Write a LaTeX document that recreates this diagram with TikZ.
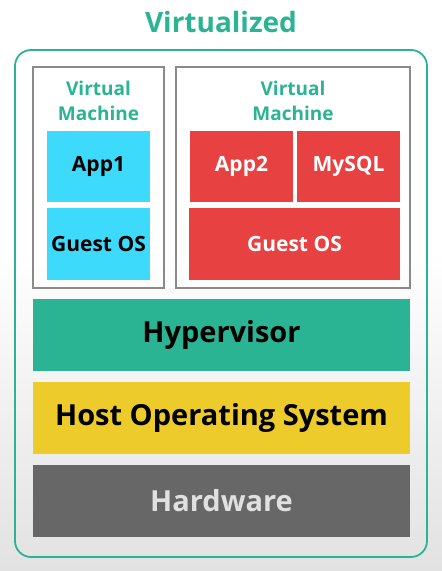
\documentclass[tikz,border=0pt]{standalone}
\usepackage{fontspec}
\setmainfont{Open Sans}
\definecolor{vteal}{HTML}{2BB494}
\definecolor{vcyan}{HTML}{3DDAFC}
\definecolor{vred}{HTML}{E84142}
\definecolor{vyellow}{HTML}{ECCB2A}
\definecolor{vhard}{HTML}{676767}
\definecolor{vframe}{HTML}{8A8A8A}
\definecolor{vback}{HTML}{E2E2E2}
\begin{document}
\begin{tikzpicture}[x=1pt,y=-1pt,
	block/.style={inner sep=0pt, outer sep=0pt, font=\bfseries\fontsize{21}{25}\selectfont},
	layer/.style={block, minimum width=377pt, minimum height=72pt, font=\bfseries\fontsize{29}{34}\selectfont},
	vmbox/.style={draw=vframe, line width=1.5pt, inner sep=0pt, minimum height=221pt},
	vmlabel/.style={text=vteal, align=center, font=\bfseries\fontsize{19}{25}\selectfont}]
		% background
		\fill[white] (0,0) rectangle (442,250);
		\shade[top color=white, bottom color=vback] (0,250) rectangle (442,571);
		\useasboundingbox (0,0) rectangle (442,571);
		\node[text=vteal, font=\bfseries\fontsize{28}{33}\selectfont] (title) at (221,22) {Virtualized};
		\draw[vteal, line width=1.8pt, rounded corners=16pt] (15,50) rectangle (427,557);
		% virtual machines
		\node[vmbox, minimum width=131pt] (vm1) at (98.5,177.5) {};
		\node[vmbox, minimum width=234pt] (vm2) at (293,177.5) {};
		\node[vmlabel] (vm1lbl) at (98.5,100.5) {Virtual\\Machine};
		\node[vmlabel] (vm2lbl) at (293,100.5) {Virtual\\Machine};
		\node[block, fill=vcyan, minimum width=103pt, minimum height=71pt] (app1) at (98.5,166.5) {App1};
		\node[block, fill=vcyan, minimum width=103pt, minimum height=72pt] (guest1) at (98.5,244) {Guest OS};
		\node[block, fill=vred, text=white, minimum width=103pt, minimum height=71pt] (app2) at (241.5,166.5) {App2};
		\node[block, fill=vred, text=white, minimum width=103pt, minimum height=71pt] (mysql) at (348.5,166.5) {MySQL};
		\node[block, fill=vred, text=white, minimum width=211pt, minimum height=72pt] (guest2) at (294.5,244) {Guest OS};
		% host layers
		\node[layer, fill=vteal] (hyper) at (221.5,335) {Hypervisor};
		\node[layer, fill=vyellow] (hostos) at (221.5,418) {Host Operating System};
		\node[layer, fill=vhard, text=black!12] (hw) at (221.5,501) {Hardware};
	\end{tikzpicture}
\end{document}
